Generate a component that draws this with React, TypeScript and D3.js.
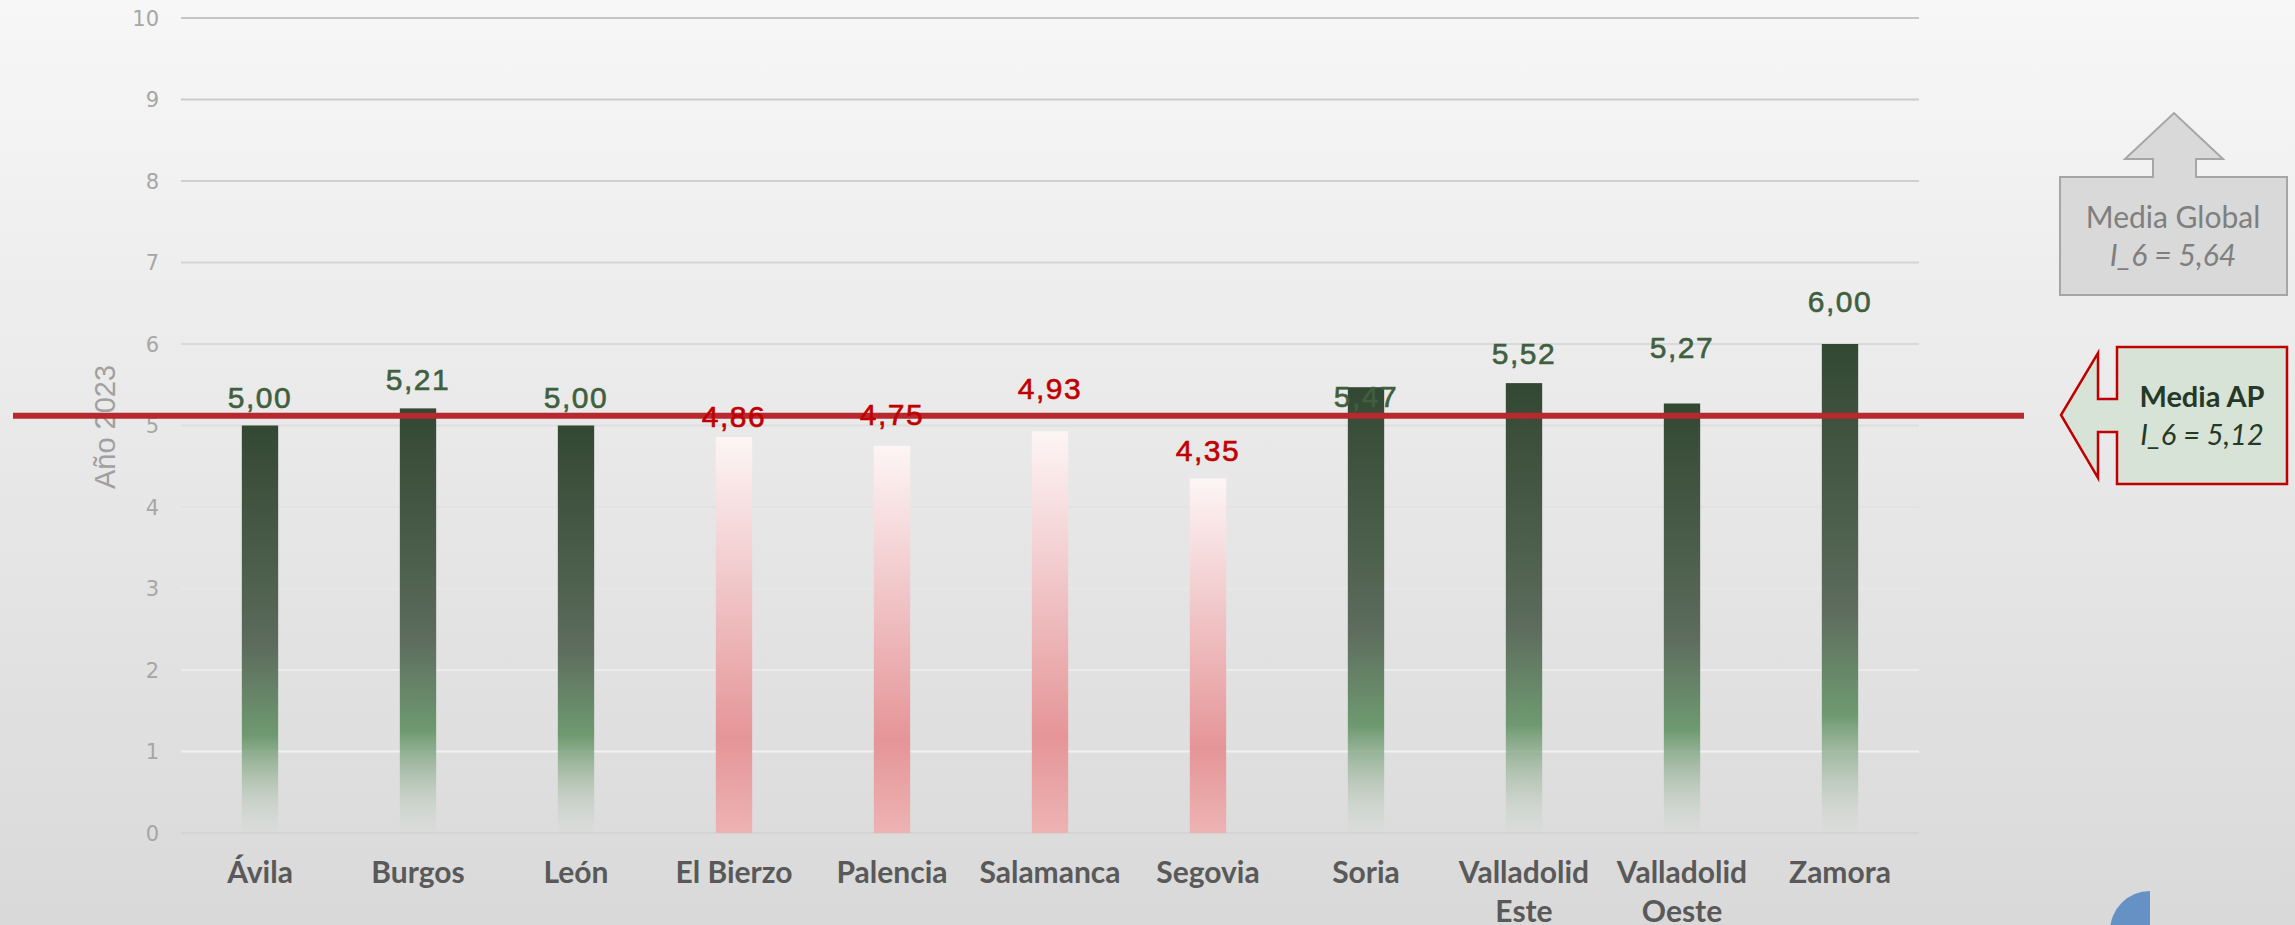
import React from 'react';
import * as d3 from 'd3';

// data (Año 2023, indicador I_6)
const categories = ['Ávila', 'Burgos', 'León', 'El Bierzo', 'Palencia', 'Salamanca', 'Segovia', 'Soria', 'Valladolid\nEste', 'Valladolid\nOeste', 'Zamora'];
const values = [5.0, 5.21, 5.0, 4.86, 4.75, 4.93, 4.35, 5.47, 5.52, 5.27, 6.0];
const yTicks = [0, 1, 2, 3, 4, 5, 6, 7, 8, 9, 10];
const mediaAP = 5.12;
const mediaGlobal = 5.64;
const passMark = 5; // bars at or above it are green, below are red
const yTitle = 'Año 2023';

// the labels in the original were nudged by hand, px above the bar top
const labelLift = [18, 18, 18, 10, 21, 32, 17, -20, 19, 45, 32];

const W = 2295;
const H = 925;
const fmt = (v: number) => v.toFixed(2).replace('.', ',');
const sans = "'Liberation Sans', Arial, sans-serif";
const calib = "Lato, 'Open Sans', sans-serif";

export default function App() {
  const x = d3.scaleBand<string>().domain(categories).range([181, 1919]).padding(0);
  const y = d3.scaleLinear().domain([0, 10]).range([833, 18]);
  const barW = x.bandwidth() * 0.23;
  const gridColor = d3.scaleLinear<string>().domain([10, 0.5]).range(['#c6c6c6', '#f3f3f3']);
  const yAvg = y(mediaAP);

  return (
    <svg width={W} height={H} style={{ position: 'absolute', left: 0, top: 0 }}>
      <defs>
        <linearGradient id="bg" x1="0" y1="0" x2="0" y2="1">
          <stop offset="0" stopColor="#f7f7f7" />
          <stop offset="1" stopColor="#d9d9d9" />
        </linearGradient>
        <linearGradient id="gBar" x1="0" y1="0" x2="0" y2="1">
          <stop offset="0" stopColor="#334833" />
          <stop offset="0.38" stopColor="#4e604e" />
          <stop offset="0.55" stopColor="#5e6d5e" />
          <stop offset="0.76" stopColor="#6e9a70" />
          <stop offset="0.88" stopColor="#9fb89f" stopOpacity="0.6" />
          <stop offset="1" stopColor="#c8d4c8" stopOpacity="0.1" />
        </linearGradient>
        <linearGradient id="rBar" x1="0" y1="0" x2="0" y2="1">
          <stop offset="0" stopColor="#fdf5f5" />
          <stop offset="0.3" stopColor="#f3d0d2" />
          <stop offset="0.76" stopColor="#e59597" />
          <stop offset="1" stopColor="#edb3b3" />
        </linearGradient>
      </defs>
      <rect x={0} y={0} width={W} height={H} fill="url(#bg)" />

      {/* grid + y ticks */}
      {yTicks.map(t => (
        <g key={t}>
          <line x1={181} x2={1919} y1={y(t)} y2={y(t)} stroke={t === 0 ? '#d4d4d4' : gridColor(t)} strokeWidth={2} />
          <text x={159} y={y(t)} dy="0.36em" textAnchor="end" fontFamily="'DejaVu Sans', sans-serif"
            fontSize={21} fill="#a6a6a6">{t}</text>
        </g>
      ))}

      <text transform={`translate(115,427) rotate(-90)`} textAnchor="middle" fontFamily={sans}
        fontSize={29} fill="#a0a0a0">{yTitle}</text>

      {/* bars */}
      {categories.map((c, i) => {
        const v = values[i];
        const cx = x(c)! + x.bandwidth() / 2;
        return (
          <rect key={c} x={cx - barW / 2} y={y(v)} width={barW} height={y(0) - y(v)}
            fill={v < passMark ? 'url(#rBar)' : 'url(#gBar)'} />
        );
      })}

      {/* media AP line */}
      <line x1={13} x2={2024} y1={yAvg} y2={yAvg} stroke="#b8292f" strokeWidth={6} />

      {/* value labels */}
      {categories.map((c, i) => {
        const v = values[i];
        const cx = x(c)! + x.bandwidth() / 2;
        const col = v < passMark ? '#c00000' : '#3f5f3f';
        return (
          <text key={c} x={cx} y={y(v) - labelLift[i]} textAnchor="middle" fontFamily={sans}
            fontSize={30} letterSpacing={1.5} fill={col} stroke={col} strokeWidth={0.6}>{fmt(v)}</text>
        );
      })}

      {/* category labels */}
      {categories.map(c => {
        const cx = x(c)! + x.bandwidth() / 2;
        return (
          <text key={c} x={cx} y={883} textAnchor="middle" fontFamily={calib} fontWeight={700}
            fontSize={30} fill="#595959">
            {c.split('\n').map((s, k) => (
              <tspan key={k} x={cx} dy={k === 0 ? 0 : 39}>{s}</tspan>
            ))}
          </text>
        );
      })}

      {/* Media Global callout (up arrow) */}
      <path d="M2060,177 H2153 V159 H2125 L2174,113 L2223,159 H2196 V177 H2287 V295 H2060 Z"
        fill="#d9d9d9" stroke="#a6a6a6" strokeWidth={2} />
      <text x={2173} y={228} textAnchor="middle" fontFamily={calib} fontSize={30} fill="#7f7f7f">Media Global</text>
      <text x={2173} y={266} textAnchor="middle" fontFamily={calib} fontStyle="italic" fontSize={30} fill="#7f7f7f">
        {`I_6 = ${fmt(mediaGlobal)}`}
      </text>

      {/* Media AP callout (left arrow) */}
      <path d="M2117,347 H2287 V484 H2117 V432 H2098 V478 L2061,415 L2098,353 V399 H2117 Z"
        fill="#d7e3d7" stroke="#c00000" strokeWidth={2.5} />
      <text x={2202} y={407} textAnchor="middle" fontFamily={calib} fontWeight={700} fontSize={29} fill="#263826">Media AP</text>
      <text x={2202} y={445} textAnchor="middle" fontFamily={calib} fontStyle="italic" fontSize={29} fill="#263826">
        {`I_6 = ${fmt(mediaAP)}`}
      </text>

      {/* corner badge */}
      <path d="M2150,891 A40,40 0 0 0 2110,931 H2150 Z" fill="#6591c5" />
    </svg>
  );
}
